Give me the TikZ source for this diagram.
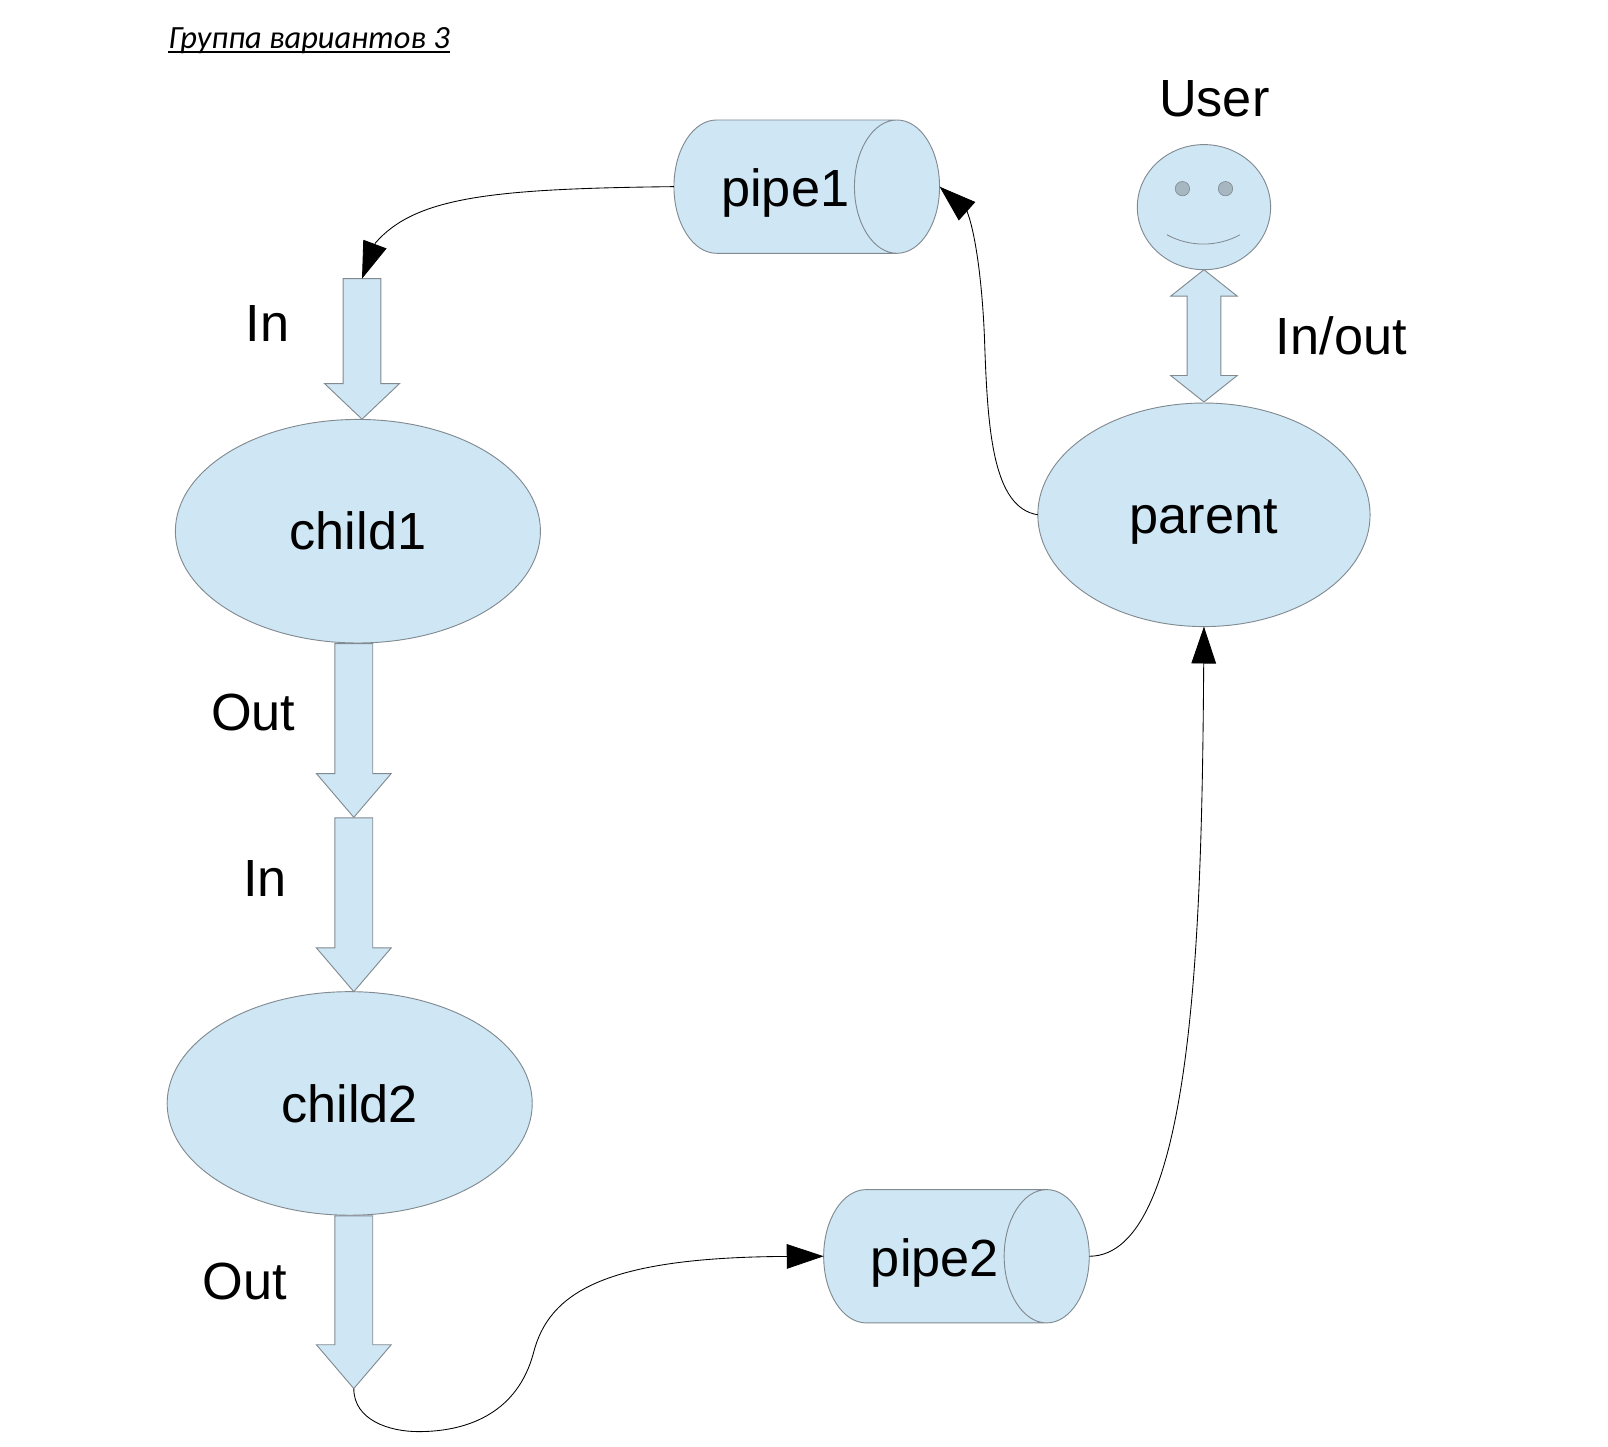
\documentclass[tikz,border=0pt]{standalone}
\usepackage{fontspec}
\setmainfont{Liberation Sans}
\newfontfamily\titlefont{Carlito}
\usetikzlibrary{shapes.geometric,shapes.arrows,arrows.meta}
\definecolor{paleblue}{HTML}{CFE6F4}
\definecolor{edgegray}{HTML}{808A90}
\definecolor{eyegray}{HTML}{A7B7C2}
\tikzset{
  shapebase/.style={draw=edgegray,fill=paleblue,line width=0.45pt,inner sep=0pt,outer sep=0pt,font=\fontsize{25.5}{30}\selectfont},
  blob/.style={shapebase,ellipse,minimum width=178pt,minimum height=109pt},
  tube/.style={shapebase,cylinder,shape border rotate=0,aspect=2.15,minimum height=129.5pt,minimum width=65pt,text depth=0pt,text height=19.3pt},
  downarrow/.style={shapebase,single arrow,rotate=-90,inner ysep=9pt,minimum width=36pt,single arrow head extend=9pt,single arrow head indent=0pt},
  word/.style={font=\fontsize{25.5}{30}\selectfont,inner sep=0pt},
  link/.style={black,line width=0.42pt,-{Triangle[length=18pt,width=12pt]}}
}
\begin{document}
\begin{tikzpicture}[x=0.5pt,y=-0.5pt]
\useasboundingbox (0,0) rectangle (1568,1411);
\node[inner sep=0pt,anchor=base west,font=\titlefont\fontsize{15.8}{18}\selectfont\itshape] (title) at (164,47.5) {Группа вариантов 3};
\draw[black,line width=0.95pt] ([yshift=-1.8pt]title.base west) -- ([yshift=-1.8pt]title.base east);
% ellipses
\node[blob] (child1) at (349,518) {child1};
\node[blob] (child2) at (341,1076) {child2};
\node[blob,minimum width=162pt,text depth=0pt,text height=18pt] (parent) at (1174,502) {parent};
% cylinders
\node[tube] (pipe1) at (765.7,182) {pipe1\hspace{5.7pt}};
\node[tube] (pipe2) at (911.7,1225) {pipe2\hspace{4.4pt}};
% block arrows
\node[downarrow,minimum height=68.5pt,single arrow tip angle=93] (a1) at (353,331.5) {};
\node[downarrow,minimum height=84.7pt,single arrow tip angle=81] (a2) at (345,701.5) {};
\node[downarrow,minimum height=84.7pt,single arrow tip angle=81] (a3) at (345,871.5) {};
\node[downarrow,minimum height=84.2pt,single arrow tip angle=81] (a4) at (345,1259) {};
% user
\node[shapebase,ellipse,minimum width=65pt,minimum height=61pt] (face) at (1174,202) {};
\node[ellipse,fill=eyegray,draw=edgegray,line width=0.3pt,minimum width=7pt,minimum height=7pt,inner sep=0pt] (eyeL) at (1153,184) {};
\node[ellipse,fill=eyegray,draw=edgegray,line width=0.3pt,minimum width=7pt,minimum height=7pt,inner sep=0pt] (eyeR) at (1195,184) {};
\draw[edgegray,line width=0.4pt] (1138,229) .. controls (1160,241) and (1187,241) .. (1209,229);
\node[shapebase,double arrow,rotate=90,inner ysep=8pt,minimum height=64.5pt,minimum width=32pt,double arrow head extend=8pt,double arrow head indent=0pt,double arrow tip angle=103] (io) at (1174,327.5) {};
% labels
\node[word] (lbuser) at (1184,96) {User};
\node[word] (lbio) at (1308,327.5) {In/out};
\node[word] (lbin1) at (261,315) {In};
\node[word] (lbout1) at (247,695) {Out};
\node[word] (lbin2) at (258.5,857) {In};
\node[word] (lbout2) at (239,1250) {Out};
% connectors
\draw[link] (pipe1.bottom) .. controls (480,184) and (405,192) .. (366,237) -- (a1.tail);
\draw[link] (parent.west) .. controls (968,495) and (963,420) .. (960,330) .. controls (958,280) and (952,230) .. (943,206) -- (pipe1.top);
\draw[link] (pipe2.top) .. controls (1165,1225) and (1172,900) .. (parent.south);
\draw[link] (a4.tip) .. controls (345,1385) and (380,1396) .. (408,1396) .. controls (460,1396) and (505,1375) .. (520,1320) .. controls (535,1260) and (590,1226) .. (pipe2.bottom);
\end{tikzpicture}
\end{document}
